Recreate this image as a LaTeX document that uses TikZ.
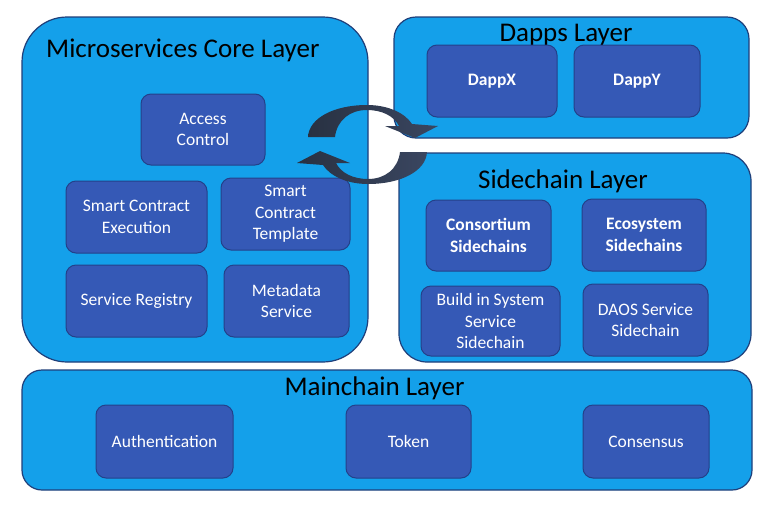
\documentclass[tikz,border=0pt]{standalone}
\usepackage{fontspec}
\setmainfont{Carlito}
\usetikzlibrary{positioning}

\definecolor{layerblue}{HTML}{14A0EA}
\definecolor{layeredge}{HTML}{1F3F7A}
\definecolor{svcblue}{HTML}{3559B6}
\definecolor{svcedge}{HTML}{23418A}
\definecolor{cycdark}{HTML}{283142}
\definecolor{cyclight}{HTML}{3A4660}

\begin{document}
\begin{tikzpicture}[x=1pt, y=-1pt,
    layer/.style={draw=layeredge, fill=layerblue, line width=1.2pt, inner sep=0pt},
    svc/.style={draw=svcedge, fill=svcblue, line width=1pt, rounded corners=10pt,
                text=white, align=center, inner sep=0pt,
                font=\fontsize{17.5}{21.5}\selectfont},
    svcbold/.style={svc, font=\fontsize{17.5}{21.5}\selectfont\bfseries},
    laytitle/.style={font=\fontsize{27}{32}\selectfont, anchor=base, inner sep=0pt}]
	\useasboundingbox[fill=white] (0,0) rectangle (780,507);

	% layers
	\node[layer, rounded corners=45pt, minimum width=346, minimum height=345] (core) at (195,189.5) {};
	\node[layer, rounded corners=22pt, minimum width=355, minimum height=121] (dapps) at (571.5,77.5) {};
	\node[layer, rounded corners=28pt, minimum width=352, minimum height=209] (side) at (575,257.5) {};
	\node[layer, rounded corners=20pt, minimum width=730, minimum height=120] (main) at (387,430) {};

	\node[laytitle, anchor=base west] (coretitle) at (46,57) {Microservices Core Layer};
	\node[laytitle] (dappstitle) at (566,41) {Dapps Layer};
	\node[laytitle] (sidetitle) at (563,188) {Sidechain Layer};
	\node[laytitle] (maintitle) at (374.5,395) {Mainchain Layer};

	% microservices
	\node[svc, minimum width=124, minimum height=71] (access) at (203,129.5) {Access\\Control};
	\node[svc, minimum width=141, minimum height=72] (exec) at (136.5,217) {Smart Contract\\Execution};
	\node[svc, minimum width=129, minimum height=72] (tmpl) at (285.5,214) {Smart\\Contract\\Template};
	\node[svc, minimum width=141, minimum height=72] (registry) at (136.5,301) {Service Registry};
	\node[svc, minimum width=125, minimum height=72] (meta) at (286.5,301) {Metadata\\Service};

	% dapps
	\node[svcbold, minimum width=130, minimum height=72] (dappx) at (492,81) {DappX};
	\node[svcbold, minimum width=126, minimum height=72] (dappy) at (637,81) {DappY};

	% sidechains
	\node[svcbold, minimum width=125, minimum height=71] (consortium) at (488.5,235.5) {Consortium\\Sidechains};
	\node[svcbold, minimum width=124, minimum height=72] (ecosystem) at (644,235) {Ecosystem\\Sidechains};
	\node[svc, minimum width=139, minimum height=70] (buildin) at (490.5,321) {Build in System\\Service\\Sidechain};
	\node[svc, minimum width=125, minimum height=72] (daos) at (645.5,320) {DAOS Service\\Sidechain};

	% mainchain
	\node[svc, minimum width=137, minimum height=73] (auth) at (164.5,441.5) {Authentication};
	\node[svc, minimum width=125, minimum height=73] (token) at (408.5,441.5) {Token};
	\node[svc, minimum width=126, minimum height=73] (consensus) at (646,441.5) {Consensus};

	% circular arrows
	\foreach \r in {0,180}
		\shade[left color=cycdark, right color=cyclight, rotate around={\r:(367.5,144.5)}]
			(308,137) .. controls (309,118) and (334,105) .. (367,105)
			.. controls (388,105) and (405,113) .. (412,124)
			-- (438,126) -- (415,138) -- (385,126) -- (399,126)
			.. controls (394,116) and (382,110) .. (367,110)
			.. controls (350,110) and (337,120) .. (335,137)
			-- cycle;
\end{tikzpicture}
\end{document}
